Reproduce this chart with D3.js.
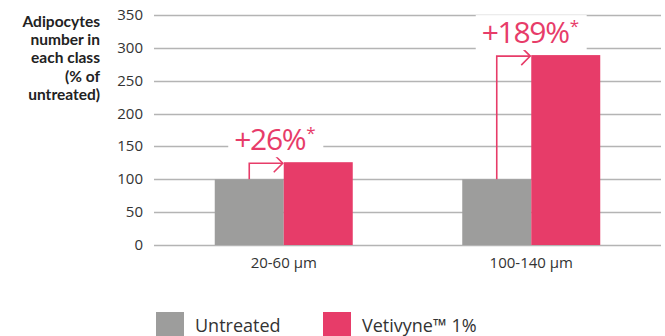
<!DOCTYPE html>
<html>
<head>
<meta charset="utf-8">
<script src="https://cdn.jsdelivr.net/npm/d3@7/dist/d3.min.js"></script>
<style>
  html, body { margin: 0; padding: 0; background: #fff; }
  svg { display: block; font-family: "Open Sans", sans-serif; }
</style>
</head>
<body>
<svg id="chart" width="665" height="336"></svg>
<script>
// Adipocyte counts per size class, as % of untreated
const categories = ["20-60 µm", "100-140 µm"];
const seriesNames = ["Untreated", "Vetivyne™ 1%"];
const untreated = [100, 100];
const vetivyne = [126, 289];
const changeLabels = ["+26%", "+189%"];
const yTicks = [0, 50, 100, 150, 200, 250, 300, 350];
const yTitle = ["Adipocytes", "number in", "each class", "(% of", "untreated)"];

const colors = ["#9d9d9c", "#e73c69"];
const textColor = "#333333";

const svg = d3.select("#chart");

const x = d3.scaleBand().domain(categories).range([160, 655]).paddingInner(0).paddingOuter(0);
const sub = d3.scaleBand().domain(seriesNames).range([0, 138]);
const y = d3.scaleLinear().domain([0, 350]).range([245, 15]);

// gridlines
svg.append("g")
  .selectAll("line")
  .data(yTicks)
  .join("line")
  .attr("x1", 154).attr("x2", 661)
  .attr("y1", d => Math.round(y(d)) + 0.5).attr("y2", d => Math.round(y(d)) + 0.5)
  .attr("stroke", "#b4b4b4").attr("stroke-width", 1.3);

// y tick labels
svg.append("g")
  .selectAll("text")
  .data(yTicks)
  .join("text")
  .attr("x", 143).attr("y", d => y(d) + 5)
  .attr("text-anchor", "end")
  .attr("font-size", 15)
  .attr("fill", textColor)
  .text(d => d);

// y axis title, one text per line
svg.append("g")
  .selectAll("text")
  .data(yTitle)
  .join("text")
  .attr("x", 100)
  .attr("y", (d, i) => 27 + i * 18.2)
  .attr("text-anchor", "end")
  .attr("font-family", "Lato, sans-serif")
  .attr("font-size", 15.5)
  .attr("font-weight", 700)
  .attr("fill", "#222")
  .text(d => d);

// bars
const groups = svg.append("g")
  .selectAll("g")
  .data(categories)
  .join("g")
  .attr("transform", d => `translate(${x(d) + x.bandwidth() / 2 - sub.range()[1] / 2},0)`);

groups.each(function (cat, i) {
  const g = d3.select(this);
  const vals = [untreated[i], vetivyne[i]];
  g.selectAll("rect")
    .data(vals)
    .join("rect")
    .attr("x", (d, j) => sub(seriesNames[j]))
    .attr("width", sub.bandwidth())
    .attr("y", d => y(d))
    .attr("height", d => y(0) - y(d))
    .attr("fill", (d, j) => colors[j]);
});

// change annotations: arrow from untreated top to treated bar
categories.forEach((cat, i) => {
  const left = x(cat) + x.bandwidth() / 2 - sub.range()[1] / 2;
  const grayMid = left + sub(seriesNames[0]) + sub.bandwidth() / 2;
  const pinkLeft = left + sub(seriesNames[1]);
  const yTop = y(vetivyne[i]) + 1;
  const g = svg.append("g");
  g.append("path")
    .attr("d", `M${grayMid},${y(untreated[i])} V${yTop} H${pinkLeft - 1}`)
    .attr("fill", "none").attr("stroke", colors[1]).attr("stroke-width", 1.6);
  g.append("path")
    .attr("d", `M${pinkLeft - 10},${yTop - 9} L${pinkLeft - 1},${yTop} L${pinkLeft - 10},${yTop + 9}`)
    .attr("fill", "none").attr("stroke", colors[1]).attr("stroke-width", 1.6);

  const label = g.append("text")
    .attr("x", grayMid - 15).attr("y", yTop - 13)
    .attr("font-size", 30)
    .attr("letter-spacing", -1.3)
    .attr("fill", colors[1]);
  label.append("tspan").text(changeLabels[i]);
  label.append("tspan").attr("font-size", 17).attr("dx", 1).attr("dy", -11).text("*");
  const bb = label.node().getBBox();
  g.insert("rect", "text")
    .attr("x", bb.x - 6).attr("y", bb.y + 4)
    .attr("width", bb.width + 14).attr("height", bb.height - 6)
    .attr("fill", "#fff");
});

// x labels
svg.append("g")
  .selectAll("text")
  .data(categories)
  .join("text")
  .attr("x", d => x(d) + x.bandwidth() / 2)
  .attr("y", 268)
  .attr("text-anchor", "middle")
  .attr("font-size", 15)
  .attr("fill", textColor)
  .text(d => d);

// legend
const legendX = [156, 323];
const legend = svg.append("g")
  .selectAll("g")
  .data(seriesNames)
  .join("g")
  .attr("transform", (d, i) => `translate(${legendX[i]},312)`);
legend.append("rect")
  .attr("width", 28).attr("height", 26)
  .attr("fill", (d, i) => colors[i]);
legend.append("text")
  .attr("x", 39).attr("y", 20)
  .attr("font-size", 18)
  .attr("fill", textColor)
  .text(d => d);
</script>
</body>
</html>
